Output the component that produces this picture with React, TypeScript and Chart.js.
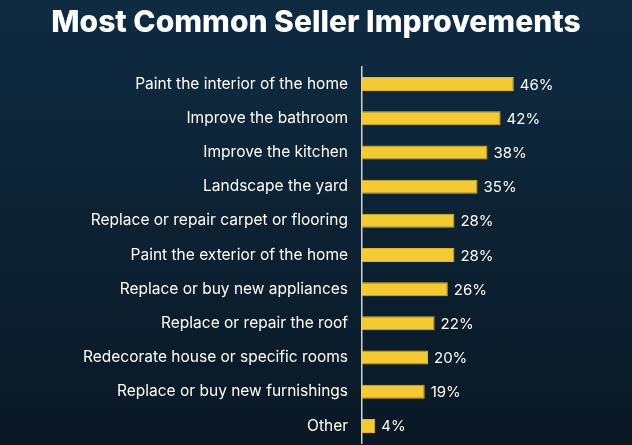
import React, { useEffect, useRef } from "react";
import { Chart, registerables } from "chart.js";

Chart.register(...registerables);

const categories = [
  "Paint the interior of the home",
  "Improve the bathroom",
  "Improve the kitchen",
  "Landscape the yard",
  "Replace or repair carpet or flooring",
  "Paint the exterior of the home",
  "Replace or buy new appliances",
  "Replace or repair the roof",
  "Redecorate house or specific rooms",
  "Replace or buy new furnishings",
  "Other",
];
const values = [46, 42, 38, 35, 28, 28, 26, 22, 20, 19, 4];
const titleText = "Most Common Seller Improvements";

const valueLabels = {
  id: "valueLabels",
  afterDatasetsDraw(chart: any) {
    const ctx = chart.ctx;
    const meta = chart.getDatasetMeta(0);
    ctx.save();
    ctx.fillStyle = "#ffffff";
    ctx.font = "400 15px Inter";
    ctx.textAlign = "left";
    ctx.textBaseline = "middle";
    meta.data.forEach((bar: any, i: number) => {
      ctx.fillText(values[i] + "%", bar.x + 6, bar.y + 1);
    });
    ctx.restore();
  },
};

const titlePlugin = {
  id: "customTitle",
  afterDraw(chart: any) {
    const ctx = chart.ctx;
    ctx.save();
    ctx.fillStyle = "#ffffff";
    ctx.font = "800 30px Inter";
    ctx.textAlign = "center";
    ctx.textBaseline = "middle";
    ctx.fillText(titleText, 316, 23);
    ctx.restore();
  },
};

export default function App() {
  const ref = useRef<HTMLCanvasElement>(null);
  useEffect(() => {
    const chart = new Chart(ref.current!, {
      type: "bar",
      data: {
        labels: categories,
        datasets: [
          {
            data: values,
            backgroundColor: "#f3c934",
            borderColor: "#e2b62a",
            borderWidth: 1,
            barPercentage: 0.82,
            categoryPercentage: 0.5,
          },
        ],
      },
      options: {
        indexAxis: "y",
        animation: false,
        responsive: false,
        maintainAspectRatio: false,
        layout: { padding: { left: 0, right: 105, top: 67, bottom: 2 } },
        plugins: {
          legend: { display: false },
          tooltip: { enabled: false },
          title: { display: false },
        },
        scales: {
          x: { display: false, min: 0, max: 50 },
          y: {
            afterFit: (s: any) => {
              s.width = 362;
              s.paddingTop = 0;
              s.paddingBottom = 0;
            },
            grid: { display: true, color: "transparent", drawTicks: false },
            border: { display: true, color: "#cfd3d8", width: 1.5 },
            ticks: {
              color: "#ffffff",
              padding: 14,
              font: { family: "Inter", size: 15.5 },
            },
          },
        },
      },
      plugins: [valueLabels, titlePlugin],
    });
    return () => chart.destroy();
  }, []);
  return (
    <div
      style={{
        position: "fixed",
        left: 0,
        top: 0,
        width: 632,
        height: 445,
        background: "linear-gradient(180deg, #0f2b42 0%, #0c2233 50%, #0a1824 100%)",
      }}
    >
      <canvas ref={ref} width={632} height={445} style={{ display: "block", width: 632, height: 445 }} />
    </div>
  );
}
